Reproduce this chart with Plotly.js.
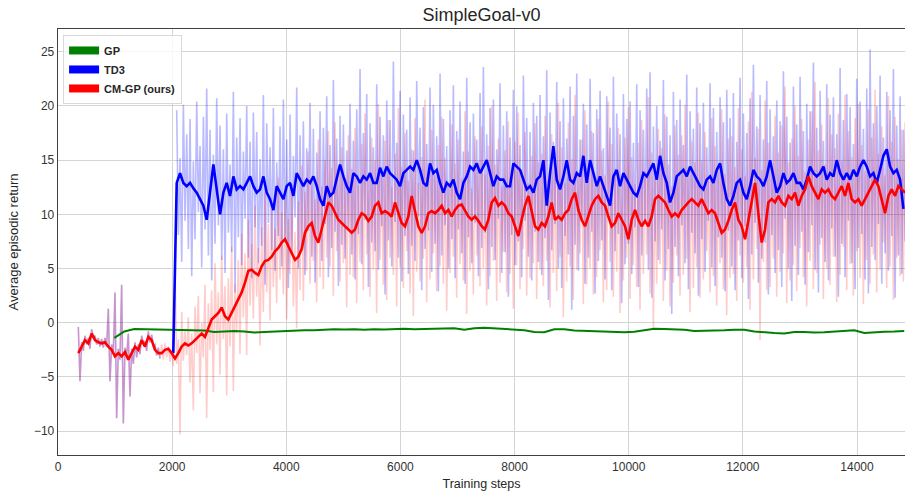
<!DOCTYPE html>
<html><head><meta charset="utf-8">
<script src="https://cdn.plot.ly/plotly-3.0.1.min.js"></script>
<style>html,body{margin:0;padding:0;background:#fff;}#chart{width:905px;height:494px;}</style>
</head><body><div id="chart"></div>
<script>
// ---- sampling grid (training steps) ----
const STEP = 58.41;          // spacing of read samples
const cmStart = 356;         // first CM-GP sample
const tdJumpStep = 2020;     // TD3 curve start (before jump)
const tdJumpValue = -2.8;
const tdStart = 2080;        // first TD3 sample after the jump
const gpStart = 987;
const gpStep = 175.2;

// ---- GP (green) smoothed return ----
const gpMean = [-1.4,-0.8,-0.58,-0.6,-0.65,-0.7,-0.7,-0.72,-0.75,-0.72,
 -0.85,-0.8,-0.75,-0.8,-0.9,-0.85,-0.8,-0.8,-0.75,-0.7,
 -0.7,-0.65,-0.6,-0.62,-0.6,-0.65,-0.6,-0.62,-0.6,-0.55,
 -0.6,-0.58,-0.6,-0.55,-0.5,-0.65,-0.5,-0.45,-0.5,-0.55,
 -0.6,-0.7,-0.85,-0.88,-0.6,-0.6,-0.72,-0.75,-0.75,-0.8,
 -0.88,-0.88,-0.82,-0.65,-0.55,-0.58,-0.6,-0.65,-0.75,-0.75,
 -0.7,-0.7,-0.65,-0.65,-0.8,-0.9,-0.95,-0.98,-0.85,-0.85,
 -0.9,-0.88,-0.82,-0.8,-0.7,-0.95,-0.85,-0.82,-0.8,-0.75];

// ---- TD3 (blue) smoothed return, from tdStart ----
const tdMean = [12.9,13.8,12.9,12.6,12.9,12.4,12.0,11.4,10.8,9.5,
 12.3,14.6,12.3,10.0,12.0,12.9,11.7,13.5,12.3,12.6,
 12.3,12.9,13.5,12.6,12.0,12.3,13.5,12.0,11.4,10.4,
 12.6,12.0,11.4,12.6,12.9,11.7,13.8,13.2,12.6,13.2,
 12.9,13.5,12.6,11.4,10.8,12.6,11.7,12.0,13.2,14.6,13.5,12.6,
 12.0,13.8,13.5,12.9,13.5,13.2,13.8,12.9,12.9,14.3,
 13.5,14.4,13.8,13.5,13.2,12.6,13.8,14.1,14.4,14.1,
 15.0,14.1,12.9,12.6,14.7,13.8,14.1,12.9,12.0,12.9,
 12.6,13.2,12.0,11.4,12.9,13.5,14.4,14.1,14.7,13.8,
 14.4,15.0,13.8,12.6,13.5,13.2,13.2,12.6,12.6,14.7,
 14.4,14.1,13.2,12.3,12.6,12.0,13.2,
 13.5,15.0,10.8,13.8,16.3,13.2,12.3,13.5,15.0,13.2,
 12.9,13.8,13.5,15.4,12.9,15.0,13.8,12.6,13.5,12.6,
 11.7,10.8,13.5,14.1,12.6,13.8,13.2,12.6,12.0,11.7,
 12.6,13.8,13.5,14.1,14.7,13.2,15.4,13.8,12.9,11.1,
 12.0,13.5,13.8,14.1,13.5,14.4,13.8,13.2,12.6,12.3,
 13.2,13.5,12.9,14.1,14.7,12.9,11.4,
 10.8,11.7,12.9,13.2,12.0,11.4,12.6,14.1,13.5,13.2,
 12.6,13.5,15.0,13.5,12.0,12.6,13.8,12.9,13.2,13.8,
 12.9,12.9,12.3,13.2,14.4,13.8,13.5,13.8,14.4,13.2,
 13.8,13.5,15.0,13.8,13.2,13.8,13.2,14.1,13.5,14.4,
 15.0,14.4,13.5,13.8,12.9,14.1,15.4,16.0,14.4,13.8,
 14.1,13.2,10.5];

// ---- CM-GP (red) smoothed return, from cmStart ----
const cmMean = [-2.8,-2.2,-1.6,-1.9,-1.0,-1.6,-1.8,-1.9,-1.8,-2.2,
 -2.5,-3.1,-2.8,-3.1,-2.7,-3.4,-2.8,-2.2,-2.5,-1.6,
 -2.2,-1.3,-1.6,-2.5,-2.8,
 -2.8,-2.5,-2.4,-2.8,-3.3,-2.8,-2.2,-1.9,-2.1,-1.9,-1.6,-1.3,-1.0,-1.3,-0.4,
 0.3,0.6,0.9,1.4,0.6,0.3,0.9,1.5,2.1,2.8,
 3.7,4.8,4.9,4.6,4.4,5.2,5.7,5.8,6.1,6.6,
 6.9,7.4,7.7,7.1,6.5,5.8,6.1,6.8,8.3,8.9,
 9.2,8.0,7.4,8.6,9.8,11.1,10.8,10.1,9.5,9.2,8.9,8.6,
 8.3,8.6,9.5,10.1,9.9,9.4,9.8,10.8,11.1,10.1,
 10.3,10.1,9.8,11.1,10.1,9.2,8.9,9.8,11.7,10.4,
 8.9,8.3,8.9,10.1,10.3,10.1,10.4,10.8,10.1,10.4,
 9.8,10.4,10.8,10.9,10.4,9.8,9.5,9.8,9.4,8.9,
 8.6,9.5,11.1,11.5,10.8,11.1,10.8,10.1,9.8,8.9,
 8.0,9.5,10.8,11.7,10.4,8.9,8.6,
 9.2,8.9,9.8,11.1,9.5,9.8,9.5,10.1,10.4,11.4,
 12.0,10.4,9.5,8.9,9.8,10.8,11.4,11.7,11.1,10.8,
 9.8,8.9,9.2,10.1,9.5,8.9,7.7,9.5,10.4,9.5,
 8.9,9.4,8.9,9.8,11.4,11.7,11.4,11.1,10.4,9.8,
 10.1,9.8,10.4,10.8,11.1,11.4,11.1,10.8,11.4,10.8,
 10.1,10.4,10.1,9.2,8.3,8.6,9.4,
 10.4,11.1,9.5,8.9,7.7,9.5,11.4,12.9,10.1,7.4,
 8.6,11.1,11.4,11.1,11.7,11.1,10.8,11.7,11.4,12.0,
 10.8,11.7,12.3,13.5,12.6,12.0,11.4,12.3,12.0,12.3,
 11.7,11.4,12.0,12.6,11.7,12.9,11.4,11.1,11.4,10.8,
 11.4,12.0,12.6,13.2,12.6,11.4,10.1,11.7,12.3,11.7,
 12.6,12.3,12.0];

// ---- raw episode returns (warm-up phase, shared by TD3 and CM-GP) ----
const warmHigh = [-0.4,-1.8,-1.2,-1.4,-0.6,-1.2,-1.4,-1.5,-1.4,1.3,
 -2.0,2.8,-2.4,3.5,-2.3,-1.0,-2.4,-1.8,-2.0,-1.2,-1.7,-0.8,-1.1,-2.0,-2.3];
const warmLow = [-5.4,-2.6,-2.0,-2.4,-1.4,-2.0,-2.2,-2.3,-2.2,-5.4,
 -2.8,-8.8,-3.4,-9.3,-3.1,-6.8,-3.8,-3.2,-2.9,-2.0,-2.6,-1.8,-2.1,-3.0,-3.3];

// ---- raw TD3 episode returns (peaks / troughs), from tdStart ----
const tdHigh = [19.6,15.2,20.1,17.4,18.8,14.9,20.4,16.3,19.0,21.6,
 17.8,15.5,20.7,18.2,16.0,19.3,14.6,21.3,17.1,18.9,
 15.8,20.0,16.7,19.4,17.6,15.1,21.0,18.4,16.2,19.8,
 14.8,18.1,20.6,16.9,19.2,15.4,21.7,17.3,18.6,16.1,
 20.3,17.9,15.7,19.5,18.0,20.9,16.4,22.4,17.0,19.1,18.3,15.9,
 20.2,16.8,19.7,23.4,17.5,21.1,18.4,16.2,22.0,19.0,
 17.3,20.5,18.7,24.1,16.6,21.4,19.2,17.8,20.8,15.9,
 22.3,18.0,19.9,16.5,21.7,20.1,17.2,23.0,18.8,16.3,
 19.6,21.9,17.7,20.4,15.8,22.6,18.5,19.3,16.9,21.2,
 23.6,17.4,19.8,20.6,16.0,22.1,18.2,19.5,17.1,21.5,
 20.0,16.4,22.8,18.9,17.6,20.3,19.1,
 21.0,17.2,23.3,19.4,16.7,22.2,18.6,20.7,17.0,21.8,
 19.1,23.0,16.9,20.2,18.3,22.5,17.5,19.7,21.4,16.1,
 20.9,18.0,22.7,19.3,17.4,21.1,18.8,20.4,16.6,22.0,
 19.6,17.8,21.6,23.1,18.1,20.0,16.8,22.4,19.0,17.3,
 21.3,18.7,20.6,16.4,22.9,19.5,17.9,21.7,18.4,20.3,
 16.2,22.1,19.8,17.6,20.8,18.5,21.5,
 18.9,21.2,16.7,22.6,19.3,17.5,20.7,23.8,18.1,21.0,
 16.9,22.3,19.7,17.2,20.5,18.6,23.2,19.0,16.6,21.8,
 18.3,22.7,17.7,20.2,19.5,24.0,18.0,21.4,16.8,22.0,
 19.2,20.8,17.4,23.5,18.7,21.1,19.9,16.5,22.5,20.4,
 17.9,21.6,25.2,18.4,20.0,22.8,17.1,21.3,19.6,23.4,
 18.2,20.9,17.8];
const tdLow = [8.1,5.6,9.4,6.8,4.3,7.7,10.2,5.1,8.6,6.2,
 3.9,7.3,9.0,5.8,4.6,8.3,6.5,2.8,7.9,5.3,
 9.6,6.0,4.1,8.8,5.5,7.1,3.5,9.2,6.7,4.8,
 8.0,5.2,7.5,3.2,6.4,9.7,5.0,7.0,4.4,8.5,
 6.1,3.7,7.8,5.7,9.1,4.2,6.9,8.4,3.4,7.2,5.9,8.7,
 6.3,4.0,8.2,5.4,9.5,3.3,7.4,6.6,4.9,8.9,
 2.6,7.6,5.2,9.3,6.0,3.8,8.0,4.5,7.1,5.7,
 9.8,3.0,6.8,8.5,4.7,7.3,2.9,6.2,9.0,5.0,
 7.7,4.1,8.6,6.4,3.6,7.9,5.5,9.2,4.3,6.9,
 8.3,3.1,7.0,5.8,9.6,4.6,6.5,2.4,8.1,5.3,
 7.5,4.2,9.4,6.1,3.9,8.4,5.6,
 4.4,7.8,2.1,6.7,9.1,5.0,3.2,8.0,6.3,1.2,
 7.2,4.8,9.5,3.6,6.0,8.4,2.7,5.7,7.6,4.0,
 9.9,3.0,6.6,8.2,1.8,5.4,7.3,4.5,8.8,3.3,
 6.2,9.3,4.9,2.3,7.5,5.8,8.6,3.9,6.8,0.8,
 7.0,4.3,9.0,5.5,3.1,8.3,6.4,2.5,7.7,4.7,
 9.4,5.1,3.4,7.9,6.0,2.9,8.5,
 5.2,3.0,7.6,4.1,8.9,2.2,6.3,9.2,3.7,5.9,
 7.4,2.6,8.1,4.6,6.7,3.3,9.6,5.0,2.0,7.1,
 4.4,8.4,3.5,6.5,9.0,4.9,2.8,7.8,5.6,3.9,
 8.7,6.1,2.4,7.3,4.2,9.4,5.5,3.1,6.9,8.2,
 4.0,2.7,7.0,5.8,9.1,3.6,6.4,4.8,8.0,2.3,
 6.2,4.5,7.5];

// ---- raw CM-GP episode returns after warm-up (peaks / troughs) ----
const cmHigh = [-2.0,-1.9,-2.2,-2.5,5.0,-1.5,1.0,-0.8,0.5,-1.0,1.5,2.5,0.0,3.5,1.8,
 3.0,5.5,2.8,6.2,3.4,4.1,7.0,3.6,5.8,8.2,
 6.4,9.5,7.3,10.8,6.9,8.8,12.0,9.1,10.5,8.7,
 13.4,10.2,11.9,9.6,12.8,8.4,11.2,14.5,12.1,15.8,
 13.0,11.4,16.9,12.6,15.0,17.7,14.3,18.5,13.6,16.2,12.9,17.3,
 14.2,18.0,12.7,16.5,19.3,13.4,17.1,15.0,20.2,13.9,
 16.8,18.7,12.5,15.6,19.8,14.4,17.5,13.1,16.0,18.9,
 12.9,15.3,20.6,14.0,17.8,13.6,16.4,19.0,15.2,12.8,
 18.3,14.7,16.9,13.3,19.5,15.8,12.4,17.2,14.9,18.1,
 13.7,16.3,20.0,14.6,17.0,12.6,15.9,18.6,13.5,16.7,
 19.4,14.1,17.6,12.9,15.4,18.4,14.8,
 15.6,19.1,13.2,17.4,14.5,20.3,16.2,12.9,18.5,15.1,
 21.0,13.8,16.9,19.6,14.3,17.7,12.7,18.8,15.9,13.6,
 20.4,16.5,14.2,18.0,13.0,17.1,19.9,15.3,12.8,16.6,
 18.7,14.0,20.8,15.7,13.4,17.9,16.1,19.2,14.6,12.6,
 18.2,15.5,17.3,20.1,13.9,16.8,14.8,19.4,15.0,17.6,
 13.1,18.9,16.3,14.4,19.7,13.7,17.0,
 17.2,14.4,19.8,16.0,13.5,18.6,21.3,15.2,17.9,14.1,
 20.5,16.6,13.8,19.1,15.7,18.2,21.8,14.8,17.0,20.0,
 15.4,18.8,13.9,16.9,19.5,22.2,15.9,18.3,14.6,20.7,
 17.4,16.1,19.3,14.9,21.0,17.7,15.3,18.9,20.2,16.4,
 14.0,19.7,17.1,21.5,15.6,18.1,13.6,20.9,16.7,19.0,
 15.1,17.8,18.5];
const cmLow = [-3.4,-3.2,-3.6,-4.0,-3.8,-10.3,-3.5,-3.0,-5.5,-8.1,-2.8,-6.5,-3.2,-8.8,-2.5,
 -6.4,-2.0,-4.8,-1.5,-6.7,-2.2,-6.3,-1.0,-2.9,0.5,
 -3.0,1.6,0.4,2.4,-2.1,1.0,2.8,0.2,3.3,1.8,
 4.0,2.6,0.3,4.5,1.5,-0.5,3.0,2.0,4.8,3.6,
 5.7,1.9,4.2,3.1,6.0,5.2,2.5,6.6,3.8,5.5,1.4,4.4,
 4.2,1.8,5.6,3.0,6.3,2.4,4.9,0.9,5.8,3.5,
 2.1,6.0,4.4,1.5,5.1,3.2,6.6,2.7,0.6,4.7,
 3.8,5.9,1.9,4.0,6.4,2.9,5.2,3.6,1.1,4.6,
 6.1,2.3,5.4,3.9,0.8,4.8,2.6,6.2,3.4,5.0,
 1.6,4.3,5.7,2.0,3.7,6.5,2.8,4.5,1.3,5.3,
 3.1,6.8,2.5,4.1,5.5,2.2,4.9,
 3.4,5.7,1.4,4.6,2.9,6.1,0.5,3.8,5.2,2.1,
 4.9,6.4,1.7,3.5,5.0,2.6,4.2,6.7,1.9,3.0,
 5.6,2.4,4.7,0.9,3.9,6.0,2.2,5.3,3.3,1.2,
 4.5,6.3,2.7,-0.6,3.6,5.4,2.0,4.8,1.5,3.7,
 6.2,2.5,4.4,5.9,1.0,3.2,5.1,2.3,4.0,6.6,
 2.8,4.3,1.6,5.5,3.1,0.7,4.1,
 4.5,2.0,6.2,3.7,5.1,1.2,4.0,6.8,-1.6,5.6,
 3.0,3.3,5.9,2.4,4.7,6.4,1.8,3.9,5.3,2.9,
 6.9,4.2,1.5,5.7,3.1,4.6,7.2,2.2,5.0,3.5,
 6.1,1.9,4.4,7.0,3.0,5.4,2.5,6.6,4.1,1.7,
 5.8,3.6,6.3,2.8,4.9,7.4,3.2,5.2,2.1,6.0,
 4.3,3.8,5.5];

const xTickVals = [0,2000,4000,6000,8000,10000,12000,14000];
const xTickText = ['0','2000','4000','6000','8000','10000','12000','14000'];
const yTickVals = [-10,-5,0,5,10,15,20,25];
const seriesNames = ['GP','TD3','CM-GP (ours)'];
const seriesColors = ['green','blue','red'];

// ---- build traces ----
function grid(start, step, n){ const a=[]; for(let i=0;i<n;i++) a.push(start+i*step); return a; }
function zigzag(start, highs, lows){
  const xs=[], ys=[];
  for(let i=0;i<highs.length;i++){ xs.push(start+i*STEP, start+i*STEP+STEP/2); ys.push(highs[i], lows[i]); }
  return {xs, ys};
}
const warm = zigzag(cmStart, warmHigh, warmLow);
const tdR = zigzag(tdStart, tdHigh, tdLow);
const cmR = zigzag(cmStart, warmHigh.concat(cmHigh), warmLow.concat(cmLow));

const rawW = 1.6;
const traces = [];
traces.push({x: warm.xs.concat([null], tdR.xs), y: warm.ys.concat([null], tdR.ys), mode:'lines',
  line:{color:'rgba(0,0,255,0.27)', width:rawW}, showlegend:false, hoverinfo:'skip'});
traces.push({x: cmR.xs, y: cmR.ys, mode:'lines', line:{color:'rgba(255,0,0,0.2)', width:rawW}, showlegend:false, hoverinfo:'skip'});
traces.push({x: grid(gpStart, gpStep, gpMean.length), y: gpMean, mode:'lines', line:{color:'green', width:2}, showlegend:false});
traces.push({x: [tdJumpStep].concat(grid(tdStart, STEP, tdMean.length)), y: [tdJumpValue].concat(tdMean), mode:'lines', line:{color:'blue', width:2.6}, showlegend:false});
traces.push({x: grid(cmStart, STEP, cmMean.length), y: cmMean, mode:'lines', line:{color:'red', width:2.6}, showlegend:false});
// legend entries
for(let k=0;k<3;k++){
  traces.push({x:[null], y:[null], mode:'lines', name: seriesNames[k], line:{color: seriesColors[k], width:8}, showlegend:true});
}

const FONT = '"Liberation Sans", Arial, sans-serif';
const layout = {
  width:905, height:494,
  margin:{l:58, r:0, t:29, b:39},
  paper_bgcolor:'#fff', plot_bgcolor:'#fff',
  font:{family:FONT, size:12, color:'#262626'},
  title:{text:'SimpleGoal-v0', font:{family:FONT, size:18, color:'#262626'}, x:0.532, xanchor:'center', y:0.97, yanchor:'middle'},
  showlegend:true,
  legend:{x:0.006, y:0.986, xanchor:'left', yanchor:'top', bgcolor:'rgba(255,255,255,0.8)', bordercolor:'#d9d9d9', borderwidth:1,
    font:{family:FONT, size:11, color:'#262626', weight:'bold'}, traceorder:'normal'},
  xaxis:{range:[0,14841], tickvals:xTickVals, ticktext:xTickText, showgrid:true, gridcolor:'#d4d4d4', gridwidth:1, zeroline:false,
    showline:true, linecolor:'#404040', linewidth:1.3, mirror:true, ticks:'', tickfont:{size:12, color:'#333'},
    title:{text:'Training steps', font:{size:12.5, color:'#262626'}, standoff:6}},
  yaxis:{range:[-12.2,27.1], tickvals:yTickVals, showgrid:true, gridcolor:'#d4d4d4', gridwidth:1, zeroline:false,
    showline:true, linecolor:'#404040', linewidth:1.3, mirror:true, ticks:'', tickfont:{size:12, color:'#333'},
    title:{text:'Average episodic return', font:{size:13, color:'#262626'}, standoff:12}}
};
Plotly.newPlot('chart', traces, layout, {staticPlot:true, displayModeBar:false});
</script></body></html>
